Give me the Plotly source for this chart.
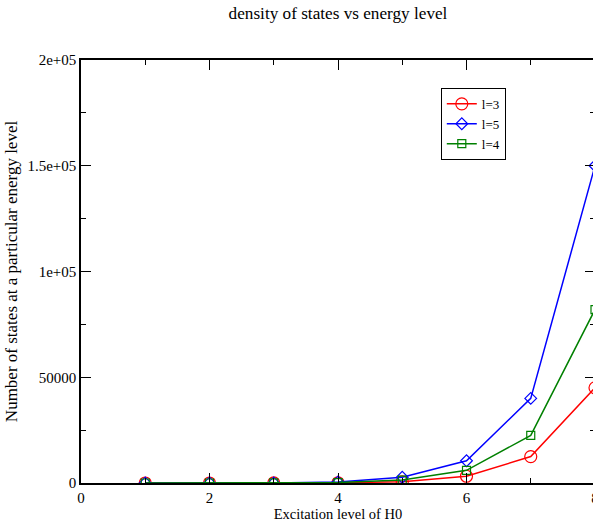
import plotly.graph_objects as go

x_levels = [1, 2, 3, 4, 5, 6, 7, 8]
l3_values = [1, 5, 20, 100, 600, 3200, 12500, 45000]
l5_values = [1, 8, 50, 450, 2700, 10500, 40000, 150000]
l4_values = [1, 6, 30, 220, 1400, 6000, 22500, 82000]

y_tickvals = [0, 50000, 100000, 150000, 200000]
y_ticktext = ["0", "50000", "1e+05", "1.5e+05", "2e+05"]
x_tickvals = [0, 2, 4, 6, 8]

FONT = "Liberation Serif"

fig = go.Figure()
fig.add_trace(go.Scatter(x=x_levels, y=l3_values, name="l=3", mode="lines+markers",
                         line=dict(color="#ff0000", width=1.5),
                         marker=dict(symbol="circle-open", size=12, color="#ff0000", line=dict(width=1.2))))
fig.add_trace(go.Scatter(x=x_levels, y=l5_values, name="l=5", mode="lines+markers",
                         line=dict(color="#0000ff", width=1.5),
                         marker=dict(symbol="diamond-open", size=9, color="#0000ff", line=dict(width=1.2))))
fig.add_trace(go.Scatter(x=x_levels, y=l4_values, name="l=4", mode="lines+markers",
                         line=dict(color="#008000", width=1.5),
                         marker=dict(symbol="square-open", size=8, color="#008000", line=dict(width=1.2))))

axis_common = dict(showline=True, linecolor="black", linewidth=1.5, mirror="ticks",
                   ticks="inside", ticklen=10, tickwidth=1, tickcolor="black",
                   showgrid=False, zeroline=False, automargin=False,
                   tickfont=dict(family=FONT, size=15, color="black"))

fig.update_xaxes(range=[0, 8], tickvals=x_tickvals,
                 minor=dict(ticks="inside", ticklen=5, tickcolor="black", dtick=1, tick0=0, showgrid=False),
                 title=dict(text="Excitation level of H0", font=dict(family=FONT, size=14.5, color="black"), standoff=2),
                 **axis_common)
fig.update_yaxes(range=[0, 200000], tickvals=y_tickvals, ticktext=y_ticktext,
                 minor=dict(ticks="inside", ticklen=5, tickcolor="black", dtick=25000, tick0=0, showgrid=False),
                 title=dict(text="Number of states at a particular energy level", font=dict(family=FONT, size=17, color="black"), standoff=5),
                 **axis_common)

fig.update_layout(
    width=600, height=530,
    margin=dict(l=81, r=5, t=60, b=47, autoexpand=False),
    paper_bgcolor="white", plot_bgcolor="white",
    title=dict(text="density of states vs energy level", x=0.5, xref="paper", y=0.976, yref="container", yanchor="middle",
               font=dict(family=FONT, size=17.2, color="black")),
    legend=dict(x=0.70, y=0.934, xanchor="left", yanchor="top",
                bordercolor="black", borderwidth=1, bgcolor="white",
                font=dict(family=FONT, size=13, color="black"),
                itemwidth=30, tracegroupgap=0),
    showlegend=True,
)

fig.write_html("out.html", config={"displayModeBar": False},
               post_script="document.body.style.margin='0';document.body.style.overflow='hidden';")
